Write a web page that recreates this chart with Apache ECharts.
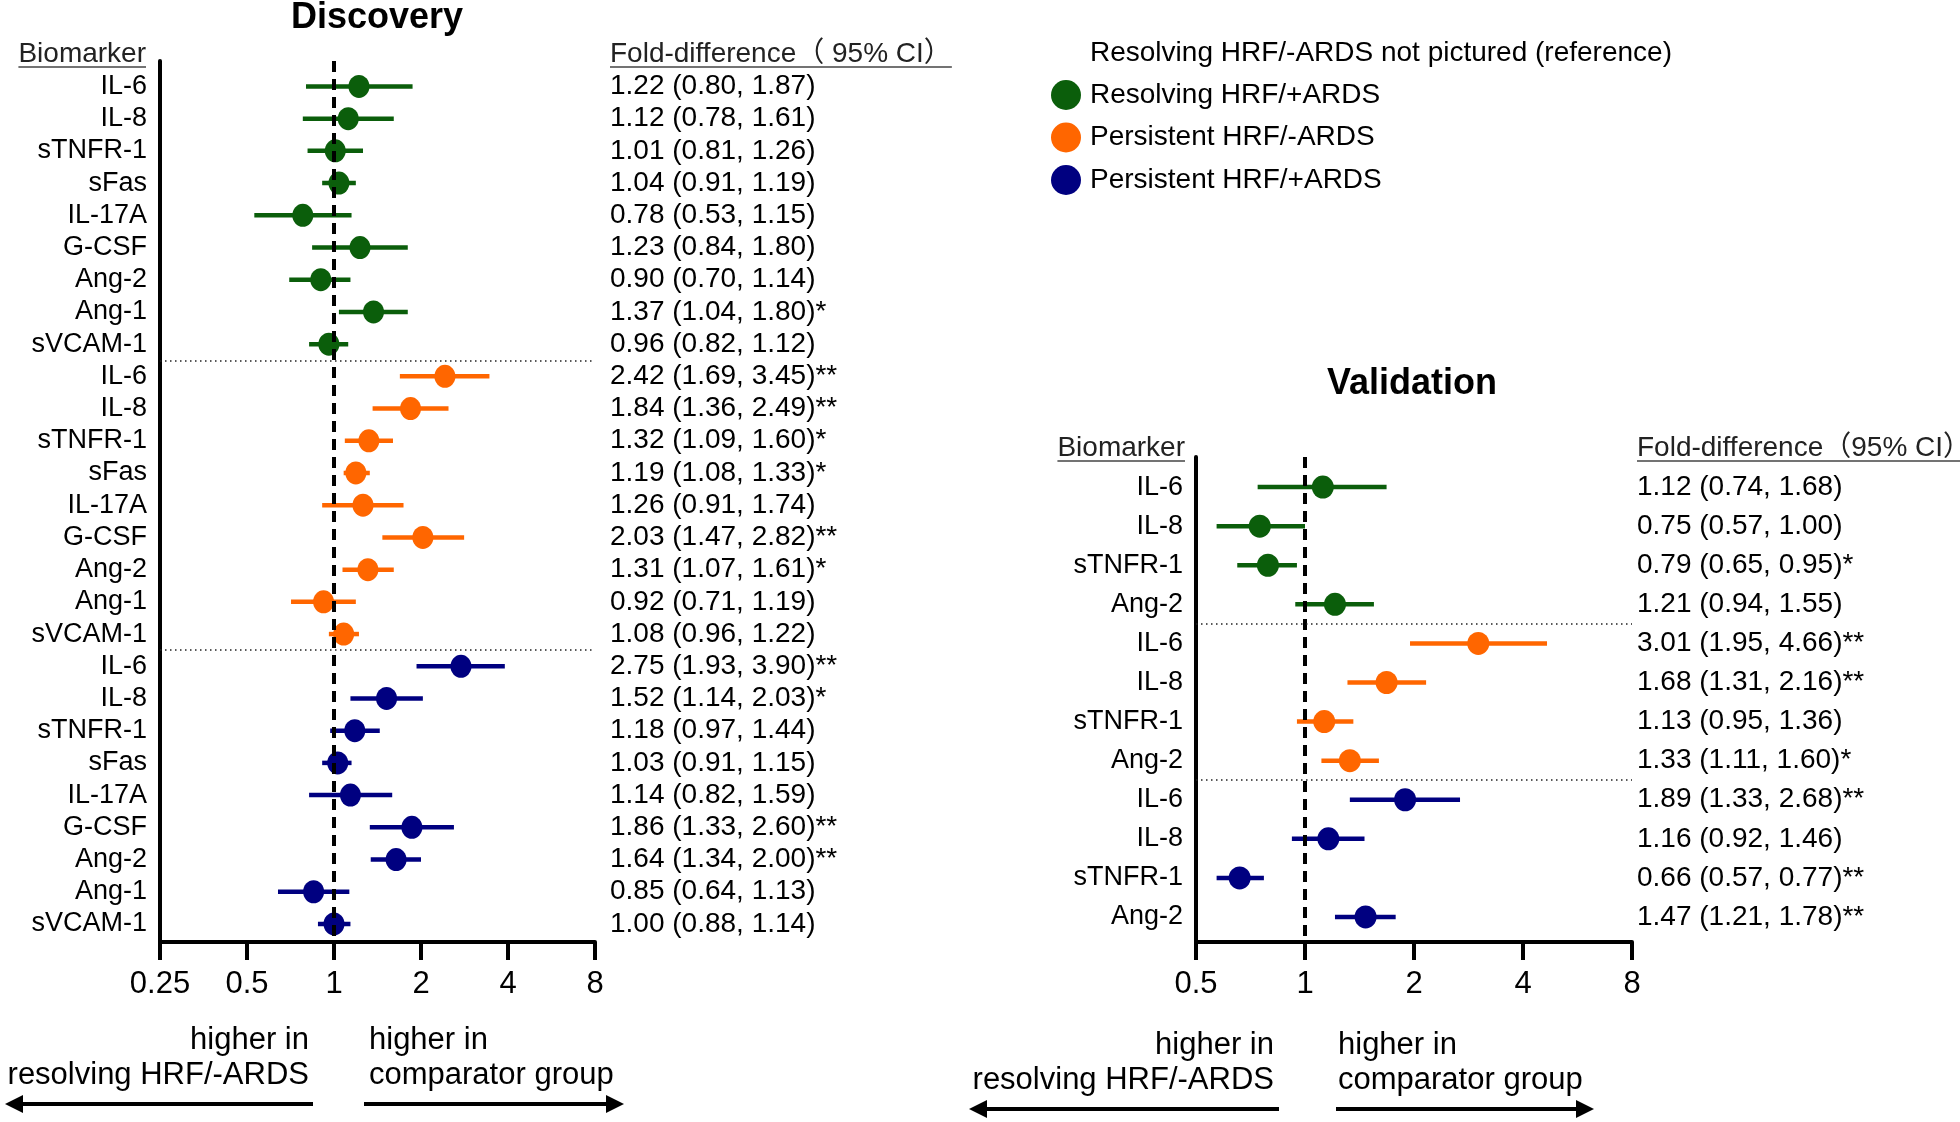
<!DOCTYPE html>
<html>
<head>
<meta charset="utf-8">
<title>Discovery / Validation forest plot</title>
<script src="https://cdn.jsdelivr.net/npm/echarts@6/dist/echarts.min.js"></script>
<style>
html, body { margin: 0; padding: 0; background: #fff; }
#main { width: 1960px; height: 1122px; }
</style>
</head>
<body>
<div id="main"></div>
<script type="text/javascript">
// biomarkers and groups
var discMarkers = ['IL-6', 'IL-8', 'sTNFR-1', 'sFas', 'IL-17A', 'G-CSF', 'Ang-2', 'Ang-1', 'sVCAM-1'];
var valMarkers = ['IL-6', 'IL-8', 'sTNFR-1', 'Ang-2'];
var groupNames = ['Resolving HRF/+ARDS', 'Persistent HRF/-ARDS', 'Persistent HRF/+ARDS'];
var groupColors = ['#0b5e0b', '#ff6600', '#000080'];

// Discovery: fold-difference, 95% CI low / high, significance
var discResArdsFold = [1.22, 1.12, 1.01, 1.04, 0.78, 1.23, 0.90, 1.37, 0.96];
var discResArdsLow  = [0.80, 0.78, 0.81, 0.91, 0.53, 0.84, 0.70, 1.04, 0.82];
var discResArdsHigh = [1.87, 1.61, 1.26, 1.19, 1.15, 1.80, 1.14, 1.80, 1.12];
var discResArdsSig  = ['', '', '', '', '', '', '', '*', ''];

var discPerNoArdsFold = [2.42, 1.84, 1.32, 1.19, 1.26, 2.03, 1.31, 0.92, 1.08];
var discPerNoArdsLow  = [1.69, 1.36, 1.09, 1.08, 0.91, 1.47, 1.07, 0.71, 0.96];
var discPerNoArdsHigh = [3.45, 2.49, 1.60, 1.33, 1.74, 2.82, 1.61, 1.19, 1.22];
var discPerNoArdsSig  = ['**', '**', '*', '*', '', '**', '*', '', ''];

var discPerArdsFold = [2.75, 1.52, 1.18, 1.03, 1.14, 1.86, 1.64, 0.85, 1.00];
var discPerArdsLow  = [1.93, 1.14, 0.97, 0.91, 0.82, 1.33, 1.34, 0.64, 0.88];
var discPerArdsHigh = [3.90, 2.03, 1.44, 1.15, 1.59, 2.60, 2.00, 1.13, 1.14];
var discPerArdsSig  = ['**', '*', '', '', '', '**', '**', '', ''];

// Validation
var valResArdsFold = [1.12, 0.75, 0.79, 1.21];
var valResArdsLow  = [0.74, 0.57, 0.65, 0.94];
var valResArdsHigh = [1.68, 1.00, 0.95, 1.55];
var valResArdsSig  = ['', '', '*', ''];

var valPerNoArdsFold = [3.01, 1.68, 1.13, 1.33];
var valPerNoArdsLow  = [1.95, 1.31, 0.95, 1.11];
var valPerNoArdsHigh = [4.66, 2.16, 1.36, 1.60];
var valPerNoArdsSig  = ['**', '**', '', '*'];

var valPerArdsFold = [1.89, 1.16, 0.66, 1.47];
var valPerArdsLow  = [1.33, 0.92, 0.57, 1.21];
var valPerArdsHigh = [2.68, 1.46, 0.77, 1.78];
var valPerArdsSig  = ['**', '', '**', '**'];

var FONT = '"Liberation Sans", Arial, "Noto Sans CJK SC", sans-serif';

function buildRows(markers, groups) {
    var rows = [];
    groups.forEach(function (g, gi) {
        markers.forEach(function (m, i) {
            rows.push({name: m, group: gi, fold: g[0][i], low: g[1][i], high: g[2][i], sig: g[3][i]});
        });
    });
    return rows;
}

var panels = [
    {
        rows: buildRows(discMarkers, [
            [discResArdsFold, discResArdsLow, discResArdsHigh, discResArdsSig],
            [discPerNoArdsFold, discPerNoArdsLow, discPerNoArdsHigh, discPerNoArdsSig],
            [discPerArdsFold, discPerArdsLow, discPerArdsHigh, discPerArdsSig]
        ]),
        seps: [8.5, 17.5],
        grid: {left: 160, top: 61, width: 435, height: 881},
        xMin: 0.25, yMin: -0.79, yMax: 26.56, dot: [21, 23], valueGap: 15
    },
    {
        rows: buildRows(valMarkers, [
            [valResArdsFold, valResArdsLow, valResArdsHigh, valResArdsSig],
            [valPerNoArdsFold, valPerNoArdsLow, valPerNoArdsHigh, valPerNoArdsSig],
            [valPerArdsFold, valPerArdsLow, valPerArdsHigh, valPerArdsSig]
        ]),
        seps: [3.5, 7.5],
        grid: {left: 1196, top: 457, width: 436, height: 485},
        xMin: 0.5, yMin: -0.77, yMax: 11.64, dot: [22, 23], valueGap: 5
    }
];

function ciText(r) {
    return r.fold.toFixed(2) + ' (' + r.low.toFixed(2) + ', ' + r.high.toFixed(2) + ')' + r.sig;
}

function ciRender(color) {
    return function (params, api) {
        var a = api.coord([api.value(1), api.value(0)]);
        var b = api.coord([api.value(2), api.value(0)]);
        return {
            type: 'line',
            shape: {x1: a[0], y1: a[1], x2: b[0], y2: b[1]},
            style: {stroke: color, lineWidth: 4.5}
        };
    };
}

var grids = [], xAxes = [], yAxes = [], series = [];

panels.forEach(function (p, pi) {
    var idx = p.rows.map(function (r, i) { return i; });
    grids.push(p.grid);
    xAxes.push({
        gridIndex: pi, type: 'log', logBase: 2, min: p.xMin, max: 8,
        axisLine: {onZero: false, lineStyle: {color: '#000', width: 4}},
        axisTick: {length: 18, lineStyle: {color: '#000', width: 4}},
        axisLabel: {
            fontSize: 31, color: '#000', fontFamily: FONT, margin: 27,
            formatter: function (v) { return String(parseFloat(Number(v).toPrecision(6))); }
        },
        splitLine: {show: false}
    });
    // left axis: biomarker names
    yAxes.push({
        gridIndex: pi, type: 'value', inverse: true, min: p.yMin, max: p.yMax, position: 'left',
        axisLine: {show: true, onZero: false, lineStyle: {color: '#000', width: 4}},
        axisTick: {show: false},
        splitLine: {show: false},
        axisLabel: {
            customValues: idx, fontSize: 27, color: '#000', fontFamily: FONT, margin: 13,
            formatter: function (v) { var r = p.rows[Math.round(v)]; return r ? r.name : ''; }
        }
    });
    // right axis: fold-difference text
    yAxes.push({
        gridIndex: pi, type: 'value', inverse: true, min: p.yMin, max: p.yMax, position: 'right',
        axisLine: {show: false}, axisTick: {show: false}, splitLine: {show: false},
        axisLabel: {
            customValues: idx, fontSize: 28, color: '#000', fontFamily: FONT, margin: p.valueGap,
            formatter: function (v) { var r = p.rows[Math.round(v)]; return r ? ciText(r) : ''; }
        }
    });

    groupNames.forEach(function (g, gi) {
        var ci = [], pts = [];
        p.rows.forEach(function (r, i) {
            if (r.group === gi) {
                ci.push([i, r.low, r.high]);
                pts.push([r.fold, i]);
            }
        });
        series.push({
            type: 'custom', xAxisIndex: pi, yAxisIndex: pi * 2, z: 2,
            renderItem: ciRender(groupColors[gi]),
            encode: {x: [1, 2], y: 0},
            data: ci, silent: true
        });
        series.push({
            name: g, type: 'scatter', xAxisIndex: pi, yAxisIndex: pi * 2, z: 4,
            symbol: 'circle', symbolSize: p.dot,
            itemStyle: {color: groupColors[gi], opacity: 1},
            data: pts, silent: true
        });
    });

    // reference line at 1 and group separators
    var marks = [{xAxis: 1, lineStyle: {type: [11, 7], width: 4, color: '#000'}}];
    p.seps.forEach(function (s) {
        marks.push({yAxis: s, lineStyle: {type: [1.5, 3.5], width: 1.5, color: '#222'}});
    });
    series.push({
        type: 'scatter', xAxisIndex: pi, yAxisIndex: pi * 2, z: 3, data: [], silent: true,
        markLine: {symbol: ['none', 'none'], silent: true, label: {show: false}, data: marks}
    });
});

// text helpers for headers
var measureCtx = document.createElement('canvas').getContext('2d');
function textWidth(str, font) { measureCtx.font = font; return measureCtx.measureText(str).width; }

var headFont = '28px ' + FONT;
var graphics = [];
function addText(str, x, y, align, font, color) {
    graphics.push({
        type: 'text', x: x, y: y, silent: true,
        style: {text: str, font: font, fill: color || '#000', textAlign: align, textVerticalAlign: 'middle'}
    });
}
function addHeader(str, x, baseY, align) {
    var w = textWidth(str, headFont);
    addText(str, x, baseY - 10, align, headFont, '#222');
    var x1 = align === 'right' ? x - w : x;
    graphics.push({
        type: 'line', silent: true,
        shape: {x1: x1, y1: baseY + 3, x2: x1 + w, y2: baseY + 3},
        style: {stroke: '#444', lineWidth: 1.5}
    });
}
function addArrow(tail, tip, y) {
    var dir = tip > tail ? 1 : -1;
    var head = 18;
    graphics.push({
        type: 'line', silent: true,
        shape: {x1: tail, y1: y, x2: tip - dir * head, y2: y},
        style: {stroke: '#000', lineWidth: 4}
    });
    graphics.push({
        type: 'polygon', silent: true,
        shape: {points: [[tip, y], [tip - dir * head, y - 9], [tip - dir * head, y + 9]]},
        style: {fill: '#000'}
    });
}

addText('Discovery', 377, 18, 'center', 'bold 36px ' + FONT);
addText('Validation', 1412, 384, 'center', 'bold 36px ' + FONT);
addHeader('Biomarker', 146, 64, 'right');
addHeader('Fold-difference\uFF08 95% CI\uFF09', 610, 64, 'left');
addHeader('Biomarker', 1185, 458, 'right');
addHeader('Fold-difference\uFF0895% CI\uFF09', 1637, 458, 'left');
addText('Resolving HRF/-ARDS not pictured (reference)', 1090, 53, 'left', '28px ' + FONT);

var dirFont = '31px ' + FONT;
addText('higher in', 309, 1040, 'right', dirFont);
addText('resolving HRF/-ARDS', 309, 1075, 'right', dirFont);
addText('higher in', 369, 1040, 'left', dirFont);
addText('comparator group', 369, 1075, 'left', dirFont);
addArrow(313, 5, 1104);
addArrow(364, 624, 1104);

addText('higher in', 1274, 1045, 'right', dirFont);
addText('resolving HRF/-ARDS', 1274, 1080, 'right', dirFont);
addText('higher in', 1338, 1045, 'left', dirFont);
addText('comparator group', 1338, 1080, 'left', dirFont);
addArrow(1279, 969, 1109);
addArrow(1336, 1594, 1109);

var myChart = echarts.init(document.getElementById('main'));
var option = {
    backgroundColor: '#fff',
    animation: false,
    legend: {
        data: groupNames, orient: 'vertical', left: 1046, top: 75,
        itemWidth: 30, itemHeight: 34, itemGap: 12.5, icon: 'circle', selectedMode: false,
        textStyle: {fontSize: 28, color: '#000', fontFamily: FONT, padding: [0, 0, 0, 4]}
    },
    grid: grids,
    xAxis: xAxes,
    yAxis: yAxes,
    series: series,
    graphic: graphics
};
myChart.setOption(option);
</script>
</body>
</html>
